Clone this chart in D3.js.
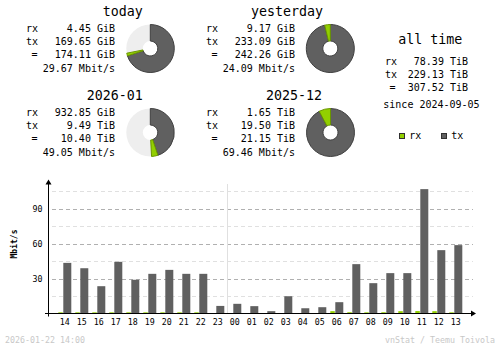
<!DOCTYPE html>
<html>
<head>
<meta charset="utf-8">
<script src="https://cdn.jsdelivr.net/npm/d3@7/dist/d3.min.js"></script>
<style>
  html, body { margin: 0; padding: 0; background: #ffffff; }
  svg { display: block; }
  text { font-family: "DejaVu Sans Mono", "Liberation Mono", monospace; fill: #000; }
</style>
</head>
<body>
<svg id="chart" width="500" height="348"></svg>
<script>
// ---- summary data (vnStat "summary" view) ----
const periods   = ["today", "yesterday", "2026-01", "2025-12"];
const rxLabels  = ["4.45 GiB", "9.17 GiB", "932.85 GiB", "1.65 TiB"];
const txLabels  = ["169.65 GiB", "233.09 GiB", "9.49 TiB", "19.50 TiB"];
const totLabels = ["174.11 GiB", "242.26 GiB", "10.40 TiB", "21.15 TiB"];
const rateLabels = ["29.67 Mbit/s", "24.09 Mbit/s", "49.05 Mbit/s", "69.46 Mbit/s"];

const allTimeRx = "78.39 TiB";
const allTimeTx = "229.13 TiB";
const allTimeTotal = "307.52 TiB";
const sinceDate = "2024-09-05";

// ---- hourly traffic, Mbit/s ----
const hours  = ["14","15","16","17","18","19","20","21","22","23","00","01",
                "02","03","04","05","06","07","08","09","10","11","12","13"];
const rxRate = [1.0, 1.0, 1.0, 1.0, 1.0, 1.0, 1.0, 1.0, 1.0, 0.2, 0.2, 0.2,
                0.1, 0.2, 0.2, 0.2, 2.0, 1.1, 1.0, 1.1, 2.0, 2.1, 2.0, 1.0];
const txRate = [43.4, 38.8, 23.4, 44.3, 28.9, 34.0, 37.4, 34.0, 34.0, 6.5, 8.3, 6.3,
                2.0, 14.8, 4.5, 5.4, 9.7, 42.3, 26.0, 34.6, 34.6, 106.6, 54.3, 58.6];
const majorTicks = [30, 60, 90];
const minorTicks = [15, 45, 75, 105];

const stamp = "2026-01-22 14:00";
const credit = "vnStat / Teemu Toivola";

// ---- colours ----
const cRx = "#92cf00", cRxEdge = "#6a9600";
const cTx = "#606060", cTxEdge = "#404040";
const cEmpty = "#eeeeee";

const svg = d3.select("#chart");

// parse "932.85 GiB" / "9.49 TiB" into GiB
function toGiB(s) {
  const [v, u] = s.split(" ");
  const mult = { KiB: 1 / 1048576, MiB: 1 / 1024, GiB: 1, TiB: 1024 };
  return +v * mult[u];
}

// layout of the four summary blocks
const blocks = [
  { titleX: 102.7, titleY: 16,   left: 26,  right: 115, cx: 150.3, cy: 48.5 },
  { titleX: 251,   titleY: 16,   left: 206, right: 295, cx: 330.3, cy: 48.5 },
  { titleX: 86.7,  titleY: 100,  left: 26,  right: 115, cx: 150.3, cy: 132.5 },
  { titleX: 266,   titleY: 100,  left: 206, right: 295, cx: 330.5, cy: 132.5 }
];

const outerR = 24, innerR = 7.5;
const arc = d3.arc().innerRadius(innerR).outerRadius(outerR);

// each pair (current, previous) shares a reference total: the larger of the two
const pairs = [[0, 1], [2, 3]];
pairs.forEach(([a, b]) => {
  const ref = Math.max(toGiB(totLabels[a]), toGiB(totLabels[b]));
  [a, b].forEach(i => {
    const bk = blocks[i];
    const g = svg.append("g");
    g.append("text").attr("x", bk.titleX).attr("y", bk.titleY)
      .style("font-size", "13.3px").text(periods[i]);

    const rows = [
      { lab: "rx", val: rxLabels[i], dy: 16.3 },
      { lab: "tx", val: txLabels[i], dy: 29 },
      { lab: "=",  val: totLabels[i], dy: 41.5 },
      { lab: "",   val: rateLabels[i], dy: 56 }
    ];
    rows.forEach(r => {
      if (r.lab) {
        g.append("text")
          .attr("x", r.lab === "=" ? bk.left + 5.5 : bk.left)
          .attr("y", bk.titleY + r.dy)
          .style("font-size", "10px").text(r.lab);
      }
      g.append("text").attr("x", bk.right).attr("y", bk.titleY + r.dy)
        .attr("text-anchor", "end").style("font-size", "10px").text(r.val);
    });

    // pie: grey base, then tx and rx slices clockwise from 12 o'clock
    const pg = svg.append("g").attr("transform", `translate(${bk.cx},${bk.cy})`);
    pg.append("path").attr("d", arc({ startAngle: 0, endAngle: 2 * Math.PI }))
      .attr("fill", cEmpty);
    const txA = toGiB(txLabels[i]) / ref * 2 * Math.PI;
    const rxA = toGiB(rxLabels[i]) / ref * 2 * Math.PI;
    pg.append("path").attr("d", arc({ startAngle: 0, endAngle: txA }))
      .attr("fill", cTx).attr("stroke", cTxEdge).attr("stroke-width", 1);
    pg.append("path").attr("d", arc({ startAngle: txA, endAngle: Math.min(txA + rxA, 2 * Math.PI) }))
      .attr("fill", cRx).attr("stroke", cRxEdge).attr("stroke-width", 1);
  });
});

// ---- all time block ----
const at = svg.append("g");
at.append("text").attr("x", 398.3).attr("y", 43.5).style("font-size", "13.3px").text("all time");
[["rx", allTimeRx, 65], ["tx", allTimeTx, 78], ["=", allTimeTotal, 90.5]].forEach(([l, v, y]) => {
  at.append("text").attr("x", l === "=" ? 389.5 : 385).attr("y", y).style("font-size", "10px").text(l);
  at.append("text").attr("x", 468).attr("y", y).attr("text-anchor", "end").style("font-size", "10px").text(v);
});
at.append("text").attr("x", 383.3).attr("y", 107.5).style("font-size", "10px").text("since " + sinceDate);

// legend
[["rx", cRx, cRxEdge, 399], ["tx", cTx, cTxEdge, 441]].forEach(([l, c, e, x]) => {
  at.append("rect").attr("x", x + 0.5).attr("y", 133.5).attr("width", 5).attr("height", 5)
    .attr("fill", c).attr("stroke", "#303030").attr("stroke-width", 1);
  at.append("text").attr("x", x + 10.3).attr("y", 139.3).style("font-size", "10px").text(l);
});

// ---- hourly bar chart ----
const y0 = 313.5;
const y = d3.scaleLinear().domain([0, 30]).range([y0, y0 - 35]);
const x = d3.scaleBand().domain(hours).range([56.3, 56.3 + 17 * hours.length]).padding(0);

const chart = svg.append("g");

// grid lines
chart.selectAll("line.minor").data(minorTicks).join("line")
  .attr("x1", 52).attr("x2", 473)
  .attr("y1", d => Math.round(y(d)) + 0.5).attr("y2", d => Math.round(y(d)) + 0.5)
  .attr("stroke", "#e0e0e0").attr("stroke-dasharray", "4,3");
chart.selectAll("line.major").data(majorTicks).join("line")
  .attr("x1", 52).attr("x2", 473)
  .attr("y1", d => Math.round(y(d)) + 0.5).attr("y2", d => Math.round(y(d)) + 0.5)
  .attr("stroke", "#b0b0b0").attr("stroke-dasharray", "4,3");

// midnight separator
const midX = x("00") + 2 - 1.8;
chart.append("line").attr("x1", Math.round(midX) + 0.5).attr("x2", Math.round(midX) + 0.5)
  .attr("y1", 184).attr("y2", y0).attr("stroke", "#e0e0e0");

// bars
chart.selectAll("rect.tx").data(txRate).join("rect")
  .attr("x", (d, i) => x(hours[i]) + 7).attr("width", 8)
  .attr("y", d => y(d)).attr("height", d => y0 - y(d))
  .attr("fill", cTx);
chart.selectAll("rect.rx").data(rxRate).join("rect")
  .attr("x", (d, i) => x(hours[i]) + 2).attr("width", 4.5)
  .attr("y", d => y(d)).attr("height", d => y0 - y(d))
  .attr("fill", cRx);

// axes
chart.append("line").attr("x1", 48.5).attr("x2", 48.5).attr("y1", 182).attr("y2", 316.5)
  .attr("stroke", "#000");
chart.append("path").attr("d", "M48.5,179.5 L45.5,184.5 L51.5,184.5 Z").attr("fill", "#000");
chart.append("line").attr("x1", 45).attr("x2", 472).attr("y1", y0).attr("y2", y0)
  .attr("stroke", "#000");
chart.append("path").attr("d", `M476,${y0} L471,${y0 - 3} L471,${y0 + 3} Z`).attr("fill", "#000");

// tick labels
chart.selectAll("text.ytick").data(majorTicks).join("text")
  .attr("x", 42.5).attr("y", d => y(d) + 3).attr("text-anchor", "end")
  .style("font-size", "8.3px").text(d => d);
chart.selectAll("text.xtick").data(hours).join("text")
  .attr("x", d => x(d) + 8.5).attr("y", 324.5).attr("text-anchor", "middle")
  .style("font-size", "8.3px").text(d => d);

chart.append("text").attr("transform", "translate(16.5,244) rotate(-90)")
  .attr("text-anchor", "middle").style("font-size", "8px").style("font-weight", "bold")
  .text("Mbit/s");

// footer
svg.append("text").attr("x", 5).attr("y", 343.3).style("font-size", "8.3px")
  .style("fill", "#c8c8c8").text(stamp);
svg.append("text").attr("x", 495).attr("y", 343.3).attr("text-anchor", "end")
  .style("font-size", "8.3px").style("fill", "#c8c8c8").text(credit);
</script>
</body>
</html>
